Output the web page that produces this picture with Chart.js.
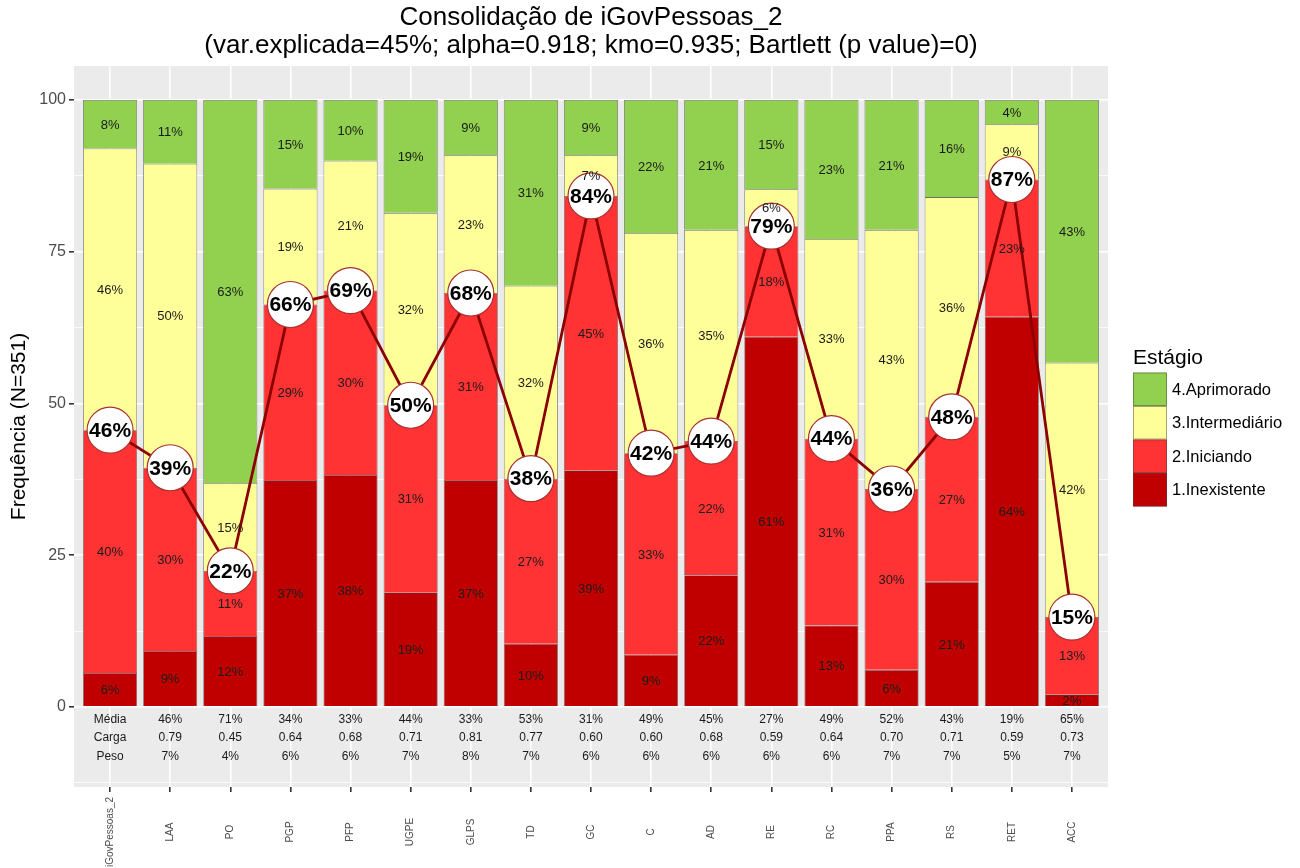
<!DOCTYPE html>
<html><head><meta charset="utf-8">
<script src="https://cdn.jsdelivr.net/npm/chart.js@4.4.1/dist/chart.umd.min.js"></script>
<style>html,body{margin:0;padding:0;background:#fff;} canvas{display:block;}</style>
</head><body>
<canvas id="c" width="1300" height="868"></canvas>
<script>
const categories = ['iGovPessoas_2','LAA','PO','PGP','PFP','UGPE','GLPS','TD','GC','C','AD','RE','RC','PPA','RS','RET','ACC'];
const inexistente   = [5.6, 9.2, 11.7, 37.4, 38.2, 18.9, 37.4, 10.4, 39.0, 8.6, 21.7, 61.0, 13.4, 6.1, 20.6, 64.3, 2.1];
const iniciando     = [40.0, 30.2, 10.7, 28.9, 30.4, 30.8, 30.8, 27.2, 45.2, 33.2, 22.1, 18.2, 30.8, 29.8, 27.2, 22.6, 12.7];
const intermediario = [46.4, 50.1, 14.5, 19.1, 21.4, 31.7, 22.7, 31.8, 6.7, 36.3, 34.8, 6.1, 32.9, 42.7, 36.2, 9.1, 41.9];
const aprimorado    = [8.0, 10.5, 63.1, 14.6, 10.0, 18.6, 9.1, 30.6, 9.1, 21.9, 21.4, 14.7, 22.9, 21.4, 16.0, 4.0, 43.3];
const rowNames = ['Média','Carga','Peso'];
const media = ['46%','71%','34%','33%','44%','33%','53%','31%','49%','45%','27%','49%','52%','43%','19%','65%'];
const carga = ['0.79','0.45','0.64','0.68','0.71','0.81','0.77','0.60','0.60','0.68','0.59','0.64','0.70','0.71','0.59','0.73'];
const peso  = ['7%','4%','6%','6%','7%','8%','7%','6%','6%','6%','6%','6%','7%','7%','5%','7%'];
const yTicks = [-12.5, 0, 12.5, 25, 37.5, 50, 62.5, 75, 87.5, 100];
const stageNames = ['1.Inexistente','2.Iniciando','3.Intermediário','4.Aprimorado'];
const stageColors = ['#C00000','#FF3333','#FFFF99','#92D050'];
const titleLines = ['Consolidação de iGovPessoas_2','(var.explicada=45%; alpha=0.918; kmo=0.935; Bartlett (p value)=0)'];
const yTitle = 'Frequência (N=351)';
const legendTitle = 'Estágio';

const FONT = '"Liberation Sans", Arial, sans-serif';
const series = [inexistente, iniciando, intermediario, aprimorado];
const circles = inexistente.map((v,i)=> v + iniciando[i]);

const barSets = series.map((arr, k) => ({
  type: 'bar',
  label: stageNames[k],
  data: arr.map((v,i)=>({x:i, y:v})),
  backgroundColor: stageColors[k],
  borderColor: 'rgba(70,70,70,0.75)',
  borderWidth: 0.8,
  categoryPercentage: 1,
  barPercentage: 0.9,
  order: 1
}));

const lineSet = {
  type: 'line',
  label: 'line',
  data: circles.map((v,i)=>({x:i, y:v})),
  stack: 'line',
  order: -1,
  borderColor: '#8B0000',
  borderWidth: 2.8,
  pointRadius: 23,
  pointHoverRadius: 23,
  pointBackgroundColor: '#ffffff',
  pointBorderColor: '#A83232',
  pointBorderWidth: 1.2,
  fill: false,
  tension: 0
};

const bgPlugin = {
  id: 'bg',
  beforeDraw(chart){
    const {ctx, chartArea:a} = chart;
    ctx.save();
    ctx.fillStyle = '#EBEBEB';
    ctx.fillRect(a.left, a.top, a.right-a.left, a.bottom-a.top);
    ctx.restore();
  }
};

const annoPlugin = {
  id: 'anno',
  afterDatasetsDraw(chart){
    const ctx = chart.ctx;
    ctx.save();
    const lm = chart.getDatasetMeta(4);
    ctx.font = 'bold 21px ' + FONT;
    ctx.fillStyle = '#000';
    ctx.textAlign = 'center';
    ctx.textBaseline = 'middle';
    lm.data.forEach((el,i)=>{
      ctx.fillText(Math.round(circles[i]) + '%', el.x, el.y + 1);
    });
    ctx.font = '13px ' + FONT;
    ctx.fillStyle = '#1a1a1a';
    for (let k=0;k<4;k++){
      const m = chart.getDatasetMeta(k);
      m.data.forEach((el,i)=>{
        const v = series[k][i];
        if (v <= 0) return;
        ctx.fillText(Math.round(v) + '%', el.x, (el.y + el.base)/2 + 1);
      });
    }
    ctx.restore();
  },
  afterDraw(chart){
    const ctx = chart.ctx;
    const xs = chart.scales.x, ys = chart.scales.y;
    const a = chart.chartArea;
    ctx.save();
    ctx.textAlign = 'center';
    ctx.textBaseline = 'middle';
    ctx.font = '12px ' + FONT;
    ctx.fillStyle = '#1a1a1a';
    const rows = [media, carga, peso];
    const rowY = [-2.1, -5.1, -8.2];
    rows.forEach((r, ri)=>{
      const y = ys.getPixelForValue(rowY[ri]);
      ctx.fillText(rowNames[ri], xs.getPixelForValue(0), y);
      r.forEach((t, j)=> ctx.fillText(t, xs.getPixelForValue(j+1), y));
    });
    ctx.font = '10px ' + FONT;
    ctx.fillStyle = '#4D4D4D';
    categories.forEach((c,i)=>{
      ctx.save();
      ctx.translate(xs.getPixelForValue(i), 832);
      ctx.rotate(-Math.PI/2);
      ctx.fillText(c, 0, 0);
      ctx.restore();
    });
    ctx.fillStyle = '#000';
    ctx.font = '26px ' + FONT;
    const cx = (a.left + a.right)/2;
    ctx.fillText(titleLines[0], cx, 18);
    ctx.fillText(titleLines[1], cx, 46);
    ctx.save();
    ctx.font = '21px ' + FONT;
    ctx.translate(19, (a.top + a.bottom)/2);
    ctx.rotate(-Math.PI/2);
    ctx.fillText(yTitle, 0, 0);
    ctx.restore();
    ctx.textAlign = 'left';
    ctx.font = '21px ' + FONT;
    ctx.fillText(legendTitle, 1133, 358);
    const bx = 1133, bw = 34, bh = 33.5, by0 = 372.5;
    ctx.font = '16.5px ' + FONT;
    for (let k=3, j=0; k>=0; k--, j++){
      const y = by0 + j*bh;
      ctx.fillStyle = stageColors[k];
      ctx.fillRect(bx, y, bw, bh);
      ctx.strokeStyle = 'rgba(70,70,70,0.6)';
      ctx.lineWidth = 0.8;
      ctx.strokeRect(bx+0.5, y+0.5, bw-1, bh-1);
      ctx.fillStyle = '#000';
      ctx.fillText(stageNames[k], bx + bw + 5, y + bh/2 + 1);
    }
    ctx.restore();
  }
};

new Chart(document.getElementById('c'), {
  data: { datasets: [...barSets, lineSet] },
  options: {
    responsive: false,
    devicePixelRatio: 1,
    animation: false,
    events: [],
    layout: { padding: { top: 66, right: 192, left: 0, bottom: 0 } },
    plugins: { legend: { display: false }, tooltip: { enabled: false }, title: { display: false } },
    scales: {
      x: {
        type: 'linear', min: -0.6, max: 16.6, stacked: true, offset: false,
        afterBuildTicks: s => { s.ticks = categories.map((c,i)=>({value:i})); },
        ticks: { display: false },
        grid: { offset: false, color: '#ffffff', lineWidth: 1.6, drawTicks: true, tickLength: 5, tickColor: '#333333' },
        border: { display: false },
        afterFit: s => { s.height = 81; }
      },
      y: {
        type: 'linear', min: -13.2, max: 105.6, stacked: true,
        afterBuildTicks: s => { s.ticks = yTicks.map(v=>({value:v})); },
        ticks: {
          autoSkip: false,
          color: '#4D4D4D',
          font: { size: 16, family: FONT },
          padding: 3,
          callback: v => (v >= 0 && v % 25 === 0) ? String(v) : ''
        },
        grid: {
          color: '#ffffff',
          lineWidth: c => (c.tick && c.tick.value >= 0 && c.tick.value % 25 === 0) ? 1.6 : 0.8,
          drawTicks: true, tickLength: 5,
          tickColor: c => (c.tick && c.tick.value >= 0 && c.tick.value % 25 === 0) ? '#333333' : 'rgba(0,0,0,0)'
        },
        border: { display: false },
        afterFit: s => { s.width = 74; }
      }
    }
  },
  plugins: [bgPlugin, annoPlugin]
});
</script>
</body></html>
